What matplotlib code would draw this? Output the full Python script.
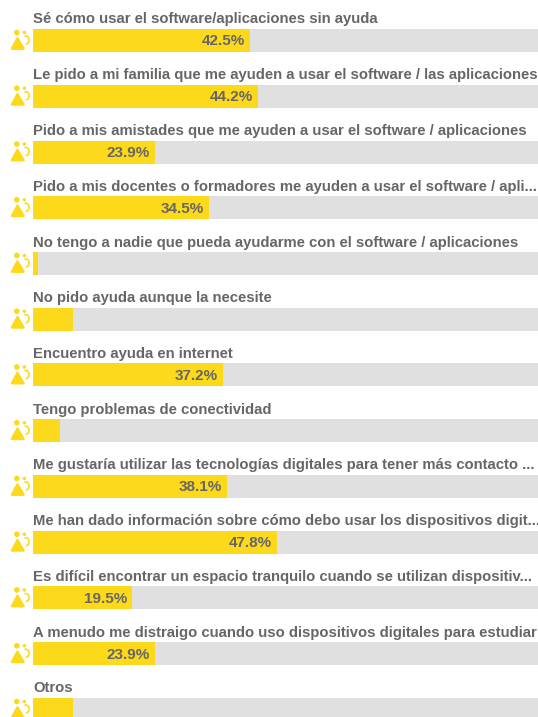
import matplotlib
matplotlib.use("Agg")
import matplotlib.pyplot as plt
from matplotlib.patches import Circle, Polygon, Arc

plt.rcParams['font.family'] = ['Liberation Sans', 'DejaVu Sans']

labels = [
    "Sé cómo usar el software/aplicaciones sin ayuda",
    "Le pido a mi familia que me ayuden a usar el software / las aplicaciones",
    "Pido a mis amistades que me ayuden a usar el software / aplicaciones",
    "Pido a mis docentes o formadores me ayuden a usar el software / apli...",
    "No tengo a nadie que pueda ayudarme con el software / aplicaciones",
    "No pido ayuda aunque la necesite",
    "Encuentro ayuda en internet",
    "Tengo problemas de conectividad",
    "Me gustaría utilizar las tecnologías digitales para tener más contacto ...",
    "Me han dado información sobre cómo debo usar los dispositivos digit...",
    "Es difícil encontrar un espacio tranquilo cuando se utilizan dispositiv...",
    "A menudo me distraigo cuando uso dispositivos digitales para estudiar",
    "Otros",
]
values = [42.5, 44.2, 23.9, 34.5, 1.0, 7.9, 37.2, 5.2, 38.1, 47.8, 19.5, 23.9, 7.9]
show_value = [True, True, True, True, False, False, True, False, True, True, True, True, False]

YELLOW = "#fdd91b"
GREY = "#e0e0e0"
TEXT = "#666666"

W, H = 538, 717
ROW0 = 40.5
STEP = 55.75
BAR_H = 23 / STEP
XMAX = 99.0

fig = plt.figure(figsize=(W / 100, H / 100), dpi=100)

# bars, the y axis is in rows
ax = fig.add_axes([33 / W, 0, 1 - 33 / W, 1])
ax.set_xlim(0, XMAX)
ax.set_ylim((H - ROW0) / STEP, -ROW0 / STEP)
ax.axis("off")

rows = list(range(len(values)))
ax.barh(rows, [XMAX] * len(rows), height=BAR_H, color=GREY, linewidth=0)
ax.barh(rows, values, height=BAR_H, color=YELLOW, linewidth=0)

for i, (lab, v, show) in enumerate(zip(labels, values, show_value)):
    ax.annotate(lab, (0, i), xytext=(0, 21 * 0.72), textcoords="offset points",
                ha="left", va="center", fontsize=10.7, fontweight="bold",
                color=TEXT, annotation_clip=False)
    if show:
        ax.annotate(f"{v}%", (v, i), xytext=(-5 * 0.72, -0.7), textcoords="offset points",
                    ha="right", va="center", fontsize=11, fontweight="bold", color=TEXT)

# little people icons, in pixels
ov = fig.add_axes([0, 0, 1, 1])
ov.set_xlim(0, W)
ov.set_ylim(H, 0)
ov.axis("off")
ov.patch.set_alpha(0)
for i in rows:
    cy = ROW0 + STEP * i
    ov.add_patch(Circle((16.8, cy - 8), 2.8, color=YELLOW, lw=0))
    ov.add_patch(Polygon([(12, cy + 8.2), (17.5, cy - 2), (23.5, cy + 8.2)],
                         closed=True, facecolor=YELLOW, edgecolor=YELLOW,
                         lw=1.8, joinstyle="round"))
    ov.add_patch(Circle((24.4, cy - 8), 1.7, color=YELLOW, lw=0))
    ov.add_patch(Arc((25.8, cy - 0.5), 6.5, 8, theta1=-110, theta2=90, color=YELLOW, lw=1.2))

fig.savefig("out.png", dpi=100)
